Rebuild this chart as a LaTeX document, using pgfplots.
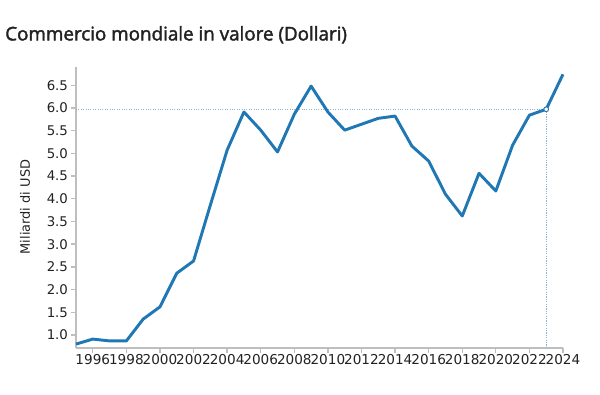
\documentclass[border=0pt]{standalone}
\usepackage{pgfplots}
\pgfplotsset{compat=1.18}
\usepackage{fontspec}
\setmainfont{DejaVu Sans}
\newfontfamily\titlefont{Open Sans}[FakeBold=2]
\definecolor{line}{RGB}{31,119,180}
\definecolor{guide}{RGB}{130,180,215}
\definecolor{axisgray}{RGB}{190,190,190}
\definecolor{txt}{RGB}{34,34,34}
\begin{document}
\begin{tikzpicture}
\useasboundingbox (0,0) rectangle (450pt,295.5pt);
\node[anchor=base west,inner sep=0,text=txt,font=\titlefont\fontsize{14.1pt}{16pt}\selectfont] at (3.75pt,265.2pt) {Commercio mondiale in valore (Dollari)};
\node[rotate=90,text=txt,inner sep=0,font=\fontsize{9.7pt}{11pt}\selectfont] at (18.75pt,140.25pt) {Miliardi di USD};
\begin{axis}[
  at={(57pt,34.5pt)}, anchor=origin,
  scale only axis, width=365.25pt, height=210.75pt,
  xmin=1995, xmax=2024, ymin=0.714, ymax=6.9,
  axis x line*=bottom, axis y line*=left,
  axis line style={axisgray, line width=1.5pt},
  every tick/.style={axisgray, line width=1pt},
  tick align=outside, major tick length=4pt,
  xtick={1996,1998,...,2024},
  ytick={1,1.5,...,6.5},
  x tick label style={/pgf/number format/1000 sep={}, font=\fontsize{10.2pt}{11pt}\selectfont, text=txt, inner xsep=0pt, yshift=2.5pt},
  y tick label style={/pgf/number format/.cd, fixed, fixed zerofill, precision=1, /tikz/.cd, font=\fontsize{10pt}{11pt}\selectfont, text=txt, xshift=1.5pt},
  /pgf/number format/assume math mode=true,
  clip=false,
]
\addplot[guide, line width=0.8pt, densely dotted] coordinates {(1995,5.97) (2023,5.97)};
\addplot[guide, line width=0.8pt, densely dotted] coordinates {(2023,5.97) (2023,0.714)};
\addplot[line, line width=2.2pt, line join=round] coordinates {
(1995,0.80) (1996,0.91) (1997,0.87) (1998,0.87) (1999,1.35) (2000,1.62)
(2001,2.36) (2002,2.63) (2003,3.86) (2004,5.07) (2005,5.91) (2006,5.51)
(2007,5.03) (2008,5.86) (2009,6.48) (2010,5.91) (2011,5.51) (2012,5.64)
(2013,5.77) (2014,5.82) (2015,5.16) (2016,4.83) (2017,4.10) (2018,3.62)
(2019,4.56) (2020,4.17) (2021,5.18) (2022,5.84) (2023,5.97) (2024,6.74)};
\addplot[only marks, mark=*, mark size=1.8pt, mark options={fill=white, draw=line, line width=0.7pt}] coordinates {(2023,5.97)};
\end{axis}
\end{tikzpicture}
\end{document}
